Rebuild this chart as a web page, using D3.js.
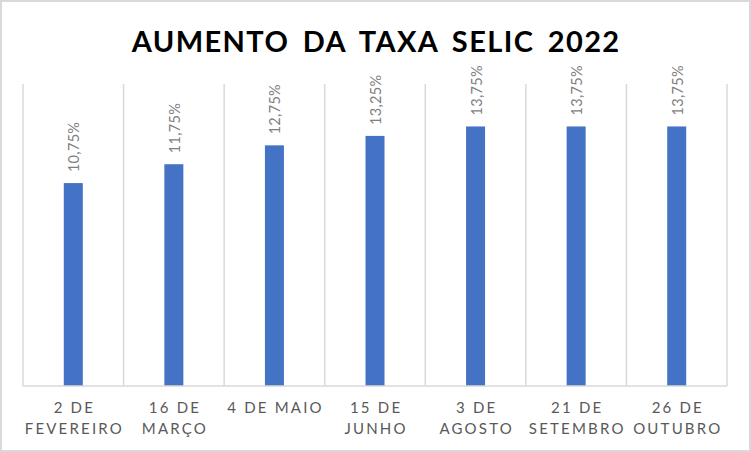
<!DOCTYPE html>
<html><head><meta charset="utf-8">
<script src="https://cdn.jsdelivr.net/npm/d3@7"></script>
<style>
html,body{margin:0;padding:0;background:#fff;}
svg{display:block;}
text{font-family:Lato,"Open Sans",sans-serif;}
</style></head>
<body>
<script>
const categories = [["2 DE","FEVEREIRO"],["16 DE","MARÇO"],["4 DE MAIO"],["15 DE","JUNHO"],["3 DE","AGOSTO"],["21 DE","SETEMBRO"],["26 DE","OUTUBRO"]];
const values = [10.75, 11.75, 12.75, 13.25, 13.75, 13.75, 13.75];
const valueLabels = ["10,75%","11,75%","12,75%","13,25%","13,75%","13,75%","13,75%"];
const title = "AUMENTO DA TAXA SELIC 2022";
const yMax = 16;

(function(){
const W = 751, H = 452;
const svg = d3.select("body").append("svg").attr("width", W).attr("height", H);
svg.append("rect").attr("x",1).attr("y",1).attr("width",W-2).attr("height",H-2)
  .attr("fill","#fff").attr("stroke","#d9d9d9").attr("stroke-width",2);

const pLeft = 23, pRight = 727, pTop = 84, pBottom = 386;
const x = d3.scaleBand().domain(d3.range(categories.length)).range([pLeft, pRight]).paddingInner(0).paddingOuter(0);
const y = d3.scaleLinear().domain([0, yMax]).range([pBottom, pTop]);

const bounds = d3.range(categories.length + 1).map(i => pLeft + i * x.bandwidth());
svg.append("g").selectAll("line").data(bounds).join("line")
  .attr("x1", d => d).attr("x2", d => d).attr("y1", pTop).attr("y2", pBottom)
  .attr("stroke", "#d9d9d9").attr("stroke-width", 1.5);

const bw = 19;
svg.append("g").selectAll("rect").data(values).join("rect")
  .attr("x", (d,i) => x(i) + x.bandwidth()/2 - bw/2)
  .attr("width", bw)
  .attr("y", d => y(d))
  .attr("height", d => y(0) - y(d))
  .attr("fill", "#4472c4");

svg.append("line").attr("x1", pLeft).attr("x2", pRight).attr("y1", pBottom).attr("y2", pBottom)
  .attr("stroke", "#d9d9d9").attr("stroke-width", 1.5);

svg.append("g").selectAll("text").data(values).join("text")
  .attr("transform", (d,i) => `translate(${x(i) + x.bandwidth()/2 + 6},${y(d) - 11}) rotate(-90)`)
  .attr("text-anchor", "start")
  .attr("font-size", 14.5)
  .attr("fill", "#7f7f7f")
  .style("letter-spacing", "0.3px")
  .text((d,i) => valueLabels[i]);

const cg = svg.append("g").selectAll("text").data(categories).join("text")
  .attr("text-anchor", "middle")
  .attr("font-size", 15)
  .attr("fill", "#595959")
  .style("letter-spacing", "2.2px");
cg.each(function(d,i){
  const t = d3.select(this);
  d.forEach((line, j) => {
    t.append("tspan").attr("x", x(i) + x.bandwidth()/2 + 1.1).attr("y", 413 + j * 20.5).text(line);
  });
});

svg.append("text").attr("x", W/2 + 0.7).attr("y", 52)
  .attr("text-anchor", "middle")
  .attr("font-size", 29)
  .attr("font-weight", "bold")
  .attr("fill", "#000")
  .style("letter-spacing", "1.4px")
  .style("word-spacing", "5px")
  .text(title);
})();
</script>
</body></html>
